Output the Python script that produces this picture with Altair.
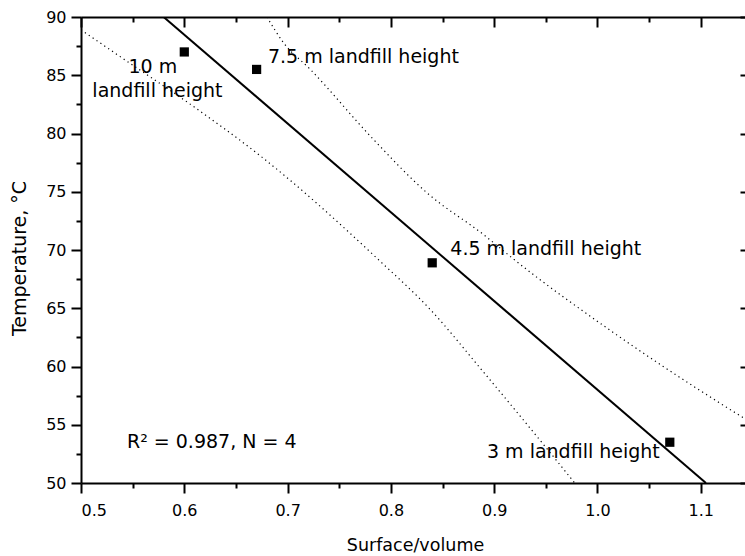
import altair as alt
import pandas as pd

# ---- data ----
point_x = [0.60, 0.67, 0.84, 1.07]
point_y = [87.0, 85.5, 68.9, 53.5]

fit_x = [0.58, 1.105]
fit_y = [90.0, 50.0]

lower_x = [0.500, 0.5445, 0.606, 0.674, 0.790, 0.838, 0.887, 0.945, 0.978]
lower_y = [88.9, 86.2, 82.5, 78.05, 69.0, 64.9, 59.8, 53.6, 50.0]

upper_x = [0.680, 0.696, 0.722, 0.783, 0.835, 0.890, 0.919, 1.0156, 1.1124, 1.143]
upper_y = [90.0, 87.8, 85.5, 79.5, 74.9, 71.3, 69.2, 62.9, 57.2, 55.5]

label_text = ["10 m", "landfill height", "7.5 m landfill height",
              "4.5 m landfill height", "3 m landfill height", "R² = 0.987, N = 4"]
label_x = [0.546, 0.511, 0.681, 0.8575, 0.893, 0.5445]
label_y = [85.2, 83.15, 86.05, 69.6, 52.17, 53.03]

x_ticks = [0.5, 0.55, 0.6, 0.65, 0.7, 0.75, 0.8, 0.85, 0.9, 0.95, 1.0, 1.05, 1.1]
y_ticks = [50, 52.5, 55, 57.5, 60, 62.5, 65, 67.5, 70, 72.5, 75, 77.5, 80, 82.5, 85, 87.5, 90]
y_major = [50, 55, 60, 65, 70, 75, 80, 85, 90]

X_DOMAIN = [0.5, 1.1428]
Y_DOMAIN = [50, 90]
W, H = 664, 466
FONT = "DejaVu Sans"

points = pd.DataFrame({"x": point_x, "y": point_y})
fit = pd.DataFrame({"x": fit_x, "y": fit_y})
bands = pd.concat([
    pd.DataFrame({"x": lower_x, "y": lower_y, "band": "lower"}),
    pd.DataFrame({"x": upper_x, "y": upper_y, "band": "upper"}),
])
labels = pd.DataFrame({"text": label_text, "x": label_x, "y": label_y})

xscale = alt.Scale(domain=X_DOMAIN, nice=False, zero=False)
yscale = alt.Scale(domain=Y_DOMAIN, nice=False, zero=False)

x_major_test = "abs(datum.value*10 - round(datum.value*10)) < 0.001"
y_major_test = "abs(datum.value % 5) < 0.001"

x_axis_bottom = alt.Axis(
    values=x_ticks,
    labelExpr=f"{x_major_test} ? format(datum.value, '.1f') : ''",
    tickSize={"condition": {"test": x_major_test, "value": 10}, "value": 5},
    labelPadding=9,
    title="Surface/volume",
    titleX=334, titleY=67, titleBaseline="alphabetic", titleAlign="center",
    titleFontSize=17.5,
)
y_axis_left = alt.Axis(
    values=y_ticks,
    labelExpr=f"{y_major_test} ? format(datum.value, 'd') : ''",
    tickSize={"condition": {"test": y_major_test, "value": 10}, "value": 5},
    labelPadding=5,
    title="Temperature, °C",
    titleX=-56, titleY=241, titleBaseline="alphabetic", titleAlign="center",
    titleAngle=-90, titleFontSize=19,
)
x_axis_top = alt.Axis(
    orient="bottom", offset=-H, values=x_ticks, labels=False, title=None,
    tickSize={"condition": {"test": x_major_test, "value": 10}, "value": 5},
)
y_axis_right = alt.Axis(
    orient="left", offset=-W, values=y_major, labels=False, title=None,
    domain=False, tickSize=5,
)

pts = alt.Chart(points).mark_square(size=85, color="black", opacity=1).encode(
    x=alt.X("x:Q", scale=xscale, axis=x_axis_bottom),
    y=alt.Y("y:Q", scale=yscale, axis=y_axis_left),
)

line = alt.Chart(fit).mark_line(color="black", strokeWidth=2, clip=True).encode(
    x=alt.X("x:Q", scale=xscale, axis=x_axis_top),
    y=alt.Y("y:Q", scale=yscale, axis=None),
)

band = alt.Chart(bands).mark_line(
    color="black", strokeWidth=1.2, strokeDash=[1.2, 3.5], clip=True,
    interpolate="monotone",
).encode(
    x=alt.X("x:Q", scale=xscale, axis=None),
    y=alt.Y("y:Q", scale=yscale, axis=y_axis_right),
    detail="band:N",
)

txt = alt.Chart(labels).mark_text(
    align="left", baseline="alphabetic", font=FONT, fontSize=19, color="black"
).encode(
    x=alt.X("x:Q", scale=xscale, axis=None),
    y=alt.Y("y:Q", scale=yscale, axis=None),
    text="text:N",
)

chart = alt.layer(pts, line, band, txt).resolve_axis(
    x="independent", y="independent"
).properties(
    width=W, height=H,
    autosize=alt.AutoSizeParams(type="none"),
    padding={"left": 81, "top": 17, "right": 0, "bottom": 73},
).configure_view(stroke=None).configure_axis(
    grid=False, domainColor="black", domainWidth=2, tickColor="black", tickWidth=2,
    labelFont=FONT, labelFontSize=16, labelColor="black",
    titleFont=FONT, titleFontWeight="normal", titleColor="black",
)

chart.save("out.html", embed_options={"renderer": "svg", "actions": False})
